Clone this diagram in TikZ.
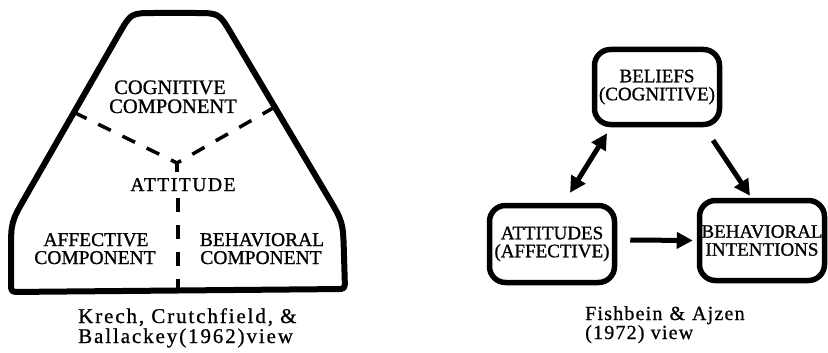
\documentclass[tikz,border=0pt]{standalone}
\usepackage{fontspec}
\setmainfont{Liberation Serif}[FakeBold=1]
\newfontfamily\spaced{Liberation Serif}[FakeBold=1,LetterSpace=8]
\newfontfamily\capfont{Liberation Serif}[FakeBold=0.8,LetterSpace=6]
\newfontfamily\krfont{Liberation Serif}[FakeBold=0.8,LetterSpace=9]
\usetikzlibrary{arrows.meta,calc}
\begin{document}
\begin{tikzpicture}[x=1pt,y=-1pt,
  outline/.style={line width=6pt, line join=round},
  divider/.style={line width=3.5pt, dash pattern=on 14pt off 13pt},
  lbl/.style={font=\fontsize{19.5}{18}\selectfont, inner sep=0pt, anchor=base, text height=12pt, text depth=0pt},
  capt/.style={font=\capfont\fontsize{20}{20}\selectfont, inner sep=0pt, anchor=base west, text height=12pt, text depth=2pt},
  box/.style={draw, line width=5.5pt, rounded corners=16pt, minimum width=125pt, inner sep=0pt, align=center, font=\fontsize{19}{18}\selectfont},
  arr/.style={line width=5pt, -{Triangle[length=16pt,width=16pt]}},
  dbl/.style={line width=5pt, {Triangle[length=16pt,width=16pt]}-{Triangle[length=16pt,width=16pt]}}
]
\useasboundingbox (0,0) rectangle (828,353);

% ---- left: rounded triangle ----
\coordinate (BL) at (11,292);
\coordinate (L) at (11,222);
\coordinate (TL) at (131,13);
\coordinate (TR) at (219,13);
\coordinate (R) at (343,222);
\coordinate (BR) at (345,289);
\draw[outline] ($(BL)!0.5!(BR)$) -- ($(BR)!9pt!(BL)$) .. controls (BR) .. ($(BR)!9pt!(R)$)
  -- ($(R)!30pt!(BR)$) .. controls (R) .. ($(R)!30pt!(TR)$)
  -- ($(TR)!24pt!(R)$) .. controls (TR) .. ($(TR)!24pt!(TL)$)
  -- ($(TL)!24pt!(TR)$) .. controls (TL) .. ($(TL)!24pt!(L)$)
  -- ($(L)!30pt!(TL)$) .. controls (L) .. ($(L)!30pt!(BL)$)
  -- ($(BL)!9pt!(L)$) .. controls (BL) .. ($(BL)!9pt!(BR)$) -- cycle;

\coordinate (lt) at ($(TL)!0.475!(L)$);
\coordinate (rt) at ($(TR)!0.45!(R)$);
\coordinate (J) at (177,163);
\coordinate (Js) at (177,172);
\coordinate (V1) at (178,198);
\coordinate (V2) at (178,292);
\draw[divider] (lt) -- (J);
\draw[divider] (rt) -- (J);
\draw[line width=3.5pt] (J) -- (Js);
\draw[divider] (V1) -- (V2);

\node[lbl, font=\fontsize{20.5}{18}\selectfont] (cog1) at (170,94) {COGNITIVE};
\node[lbl, font=\fontsize{20.5}{18}\selectfont] (cog2) at (173,113) {COMPONENT};
\node[lbl, font=\spaced\fontsize{19.5}{18}\selectfont] (attl) at (183,191) {ATTITUDE};
\node[lbl] (aff1) at (96,246) {AFFECTIVE};
\node[lbl] (aff2) at (95,264) {COMPONENT};
\node[lbl] (beh1) at (262,246) {BEHAVIORAL};
\node[lbl] (beh2) at (261,264) {COMPONENT};

\node[capt, font=\krfont\fontsize{21}{20}\selectfont] (k1) at (78,323) {Krech, Crutchfield, \&};
\node[capt, font=\krfont\fontsize{21}{20}\selectfont] (k2) at (78,343) {Ballackey(1962)view};

% ---- right: Fishbein & Ajzen ----
\node[box, minimum height=75pt] (bel) at (657,87) {BELIEFS\\(COGNITIVE)};
\node[box, minimum height=77pt] (att) at (552,244) {ATTITUDES\\(AFFECTIVE)};
\node[box, minimum height=80pt] (beh) at (762,240.5) {BEHAVIORAL\\INTENTIONS};

\draw[dbl] ([shift={(18,-10)}]att.north) -- ([shift={(-50,6)}]bel.south);
\draw[arr] ([shift={(56,13)}]bel.south) -- ([shift={(-12,-2)}]beh.north);
\draw[arr] ([shift={(13,-4)}]att.east) -- ([shift={(-4,0)}]beh.west);

\node[capt] (f1) at (585,320) {Fishbein\hspace{7pt}\&\hspace{7pt}Ajzen};
\node[capt] (f2) at (585,339) {(1972) view};
\end{tikzpicture}
\end{document}
